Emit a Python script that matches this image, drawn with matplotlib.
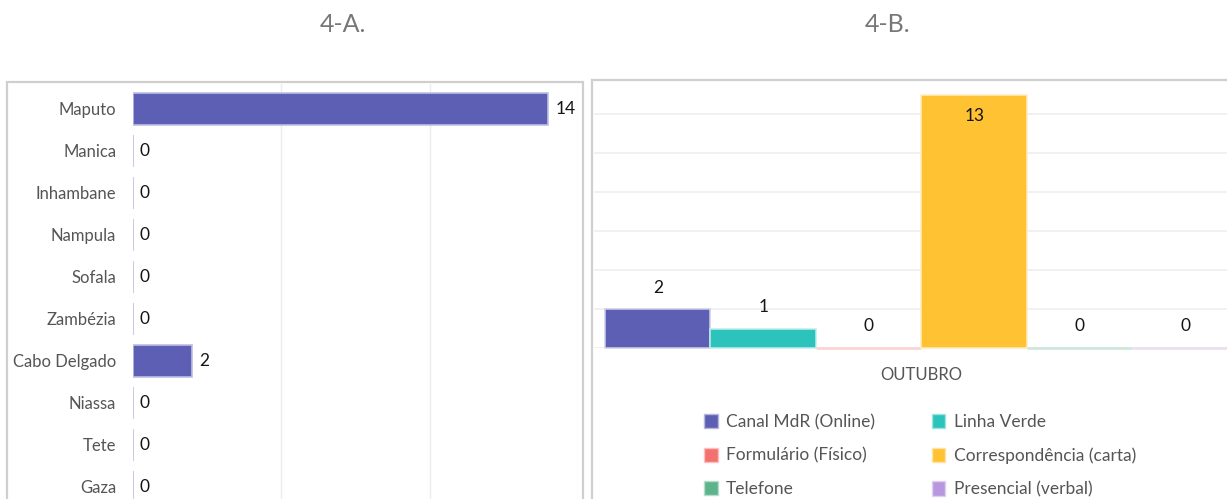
import matplotlib
matplotlib.use("Agg")
import matplotlib.pyplot as plt
from matplotlib.patches import Rectangle, Patch
from matplotlib.colors import to_rgb

plt.rcParams['font.family'] = ['Lato', 'DejaVu Sans']

# 4-A: reclamações por província
provincias = ["Maputo", "Manica", "Inhambane", "Nampula", "Sofala", "Zambézia",
              "Cabo Delgado", "Niassa", "Tete", "Gaza"]
prov_valores = [14, 0, 0, 0, 0, 0, 2, 0, 0, 0]

# 4-B: canais de entrada (mês de outubro)
mes = "OUTUBRO"
canais = ["Canal MdR (Online)", "Linha Verde", "Formulário (Físico)",
          "Correspondência (carta)", "Telefone", "Presencial (verbal)"]
canal_valores = [2, 1, 0, 13, 0, 0]
canal_cores = ["#5C5FB3", "#2BC3BB", "#F3726F", "#FFC232", "#5DB38C", "#B997E0"]

W, H = 1227, 499
TXT = "#555555"


def tint(c, f=0.55):
    r, g, b = to_rgb(c)
    return (r + (1 - r) * f, g + (1 - g) * f, b + (1 - b) * f)


def px_box(x0, y0, x1, y1):
    # pixel box (top-left origin) -> figure fraction [l, b, w, h]
    return [x0 / W, 1 - y1 / H, (x1 - x0) / W, (y1 - y0) / H]


fig = plt.figure(figsize=(W / 100, H / 100), dpi=100)

# panel frames
for x0, y0, x1, y1 in [(7, 82, 583, 520), (592, 80, 1240, 520)]:
    fig.add_artist(Rectangle((x0 / W, 1 - y1 / H), (x1 - x0) / W, (y1 - y0) / H,
                             transform=fig.transFigure, fill=False,
                             edgecolor="#cfcfcf", linewidth=1.6))

fig.text(343 / W, 1 - 24 / H, "4-A.", ha="center", va="center", fontsize=18, color="#777777")
fig.text(888 / W, 1 - 24 / H, "4-B.", ha="center", va="center", fontsize=18, color="#777777")

# ---- 4-A
ax1 = fig.add_axes(px_box(133, 84, 578, 499))
ys = list(range(len(provincias)))
ax1.barh(ys, prov_valores, height=0.76, color="#5C5FB3",
         edgecolor=tint("#5C5FB3", 0.6), linewidth=1.2, zorder=3)
ax1.set_ylim(len(provincias) - 0.714, -0.595)
ax1.set_xlim(0, 15)
ax1.set_xticks([5, 10, 15])
ax1.xaxis.grid(True, color="#ececec", linewidth=1)
ax1.tick_params(axis="x", length=0, labelbottom=False)
ax1.set_yticks(ys)
ax1.set_yticklabels(provincias, fontsize=12, color=TXT)
ax1.tick_params(axis="y", length=0, pad=12)
for s in ax1.spines.values():
    s.set_visible(False)
for y, v in zip(ys, prov_valores):
    ax1.annotate(str(v), (v, y), xytext=(5, 0), textcoords="offset points",
                 ha="left", va="center", fontsize=12.5, color="#151515")

# ---- 4-B
ax2 = fig.add_axes(px_box(594, 82, 1227, 348))
xs = list(range(len(canais)))
bars = ax2.bar(xs, canal_valores, width=1.0, color=canal_cores,
               edgecolor=[tint(c, 0.7) for c in canal_cores],
               linewidth=[2 if v == 0 else 1.1 for v in canal_valores], zorder=3)
for b in bars:
    b.set_clip_on(False)
top = 13.67
ax2.set_ylim(0, top)
ax2.set_xlim(-0.604, 5.396)
ax2.set_yticks(range(0, 14, 2))
ax2.yaxis.grid(True, color="#efefef", linewidth=1.2)
ax2.tick_params(axis="y", length=0, labelleft=False)
ax2.set_xticks([(len(canais) - 1) / 2])
ax2.set_xticklabels([mes], fontsize=12, color=TXT)
ax2.tick_params(axis="x", length=0, pad=14)
for s in ax2.spines.values():
    s.set_visible(False)
for x, v in zip(xs, canal_valores):
    off = -15 if v > top - 1.5 else 15.5
    ax2.annotate(str(v), (x, v), xytext=(0, off), textcoords="offset points",
                 ha="center", va="center", fontsize=12.5, color="#151515")

order = [0, 2, 4, 1, 3, 5]
handles = [Patch(facecolor=canal_cores[i], edgecolor=tint(canal_cores[i])) for i in order]
labels = [canais[i] for i in order]
leg = fig.legend(handles, labels, ncol=2, loc="upper left",
                 bbox_to_anchor=(704 / W, 1 - 414 / H), frameon=False,
                 fontsize=12.5, borderpad=0, borderaxespad=0,
                 handlelength=0.78, handleheight=0.88, handletextpad=0.5,
                 labelspacing=1.0, columnspacing=3.25)
for t in leg.get_texts():
    t.set_color(TXT)

fig.savefig("out.png", dpi=100)
